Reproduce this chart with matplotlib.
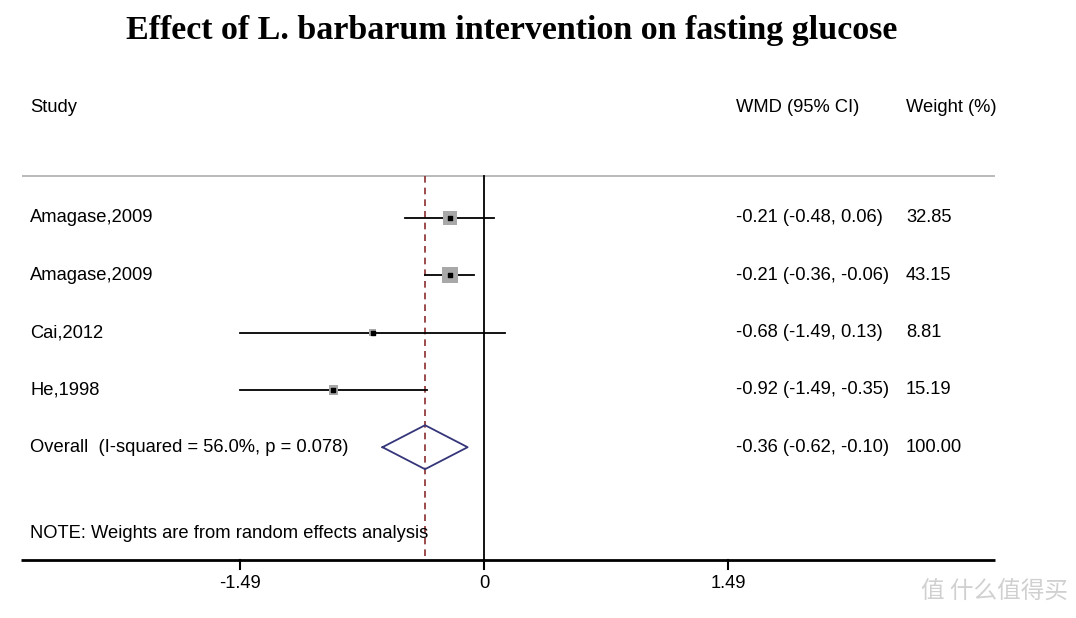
import matplotlib
matplotlib.use("Agg")
import matplotlib.pyplot as plt
import numpy as np

# ---- data ----
studies = ["Amagase,2009", "Amagase,2009", "Cai,2012", "He,1998"]
wmd = [-0.21, -0.21, -0.68, -0.92]
ci_low = [-0.48, -0.36, -1.49, -1.49]
ci_high = [0.06, -0.06, 0.13, -0.35]
weights = [32.85, 43.15, 8.81, 15.19]
overall_label = "Overall  (I-squared = 56.0%, p = 0.078)"
overall = -0.36
overall_low = -0.62
overall_high = -0.10
overall_weight = 100.00
xticks = [-1.49, 0, 1.49]
xticklabels = ["-1.49", "0", "1.49"]
title = "Effect of L. barbarum intervention on fasting glucose"
note = "NOTE: Weights are from random effects analysis"

W, H = 1076, 618
fig = plt.figure(figsize=(W / 100, H / 100), dpi=100)
ax = fig.add_axes([0, 0, 1, 1])
ax.axis("off")

# scale: 0 at px 484, 163.76 px per unit; row 0 at px 218, 57.3 px per row
x0px, xs = 484.0, 163.76
y0px, ys = 218.0, 57.3
ax.set_xlim(-x0px / xs, (W - x0px) / xs)
ax.set_ylim((H - y0px) / ys, -y0px / ys)

def px2x(p):
    return (p - x0px) / xs

def py2r(p):
    return (p - y0px) / ys

font = ["Liberation Sans", "DejaVu Sans"]
fs = 13.2
n = len(studies)
rows = np.arange(n)
r_over = n
r_top = py2r(176)
r_bot = py2r(560)

# header
ax.text(px2x(30), py2r(108), "Study", fontsize=fs, family=font, va="center", ha="left")
ax.text(px2x(736), py2r(108), "WMD (95% CI)", fontsize=fs, family=font, va="center", ha="left")
ax.text(px2x(906), py2r(108), "Weight (%)", fontsize=fs, family=font, va="center", ha="left")

# top separator line
ax.plot([px2x(22), px2x(995)], [r_top, r_top], color="#b4b4b4", lw=1.3, solid_capstyle="butt")

# zero line and overall dashed line
ax.plot([0, 0], [r_top, r_bot], color="black", lw=1.3)
ax.plot([overall, overall], [r_top, r_bot], color="#8b2e2e", lw=1.2, ls=(0, (4, 3)))

# study rows
for i in range(n):
    ax.plot([ci_low[i], ci_high[i]], [rows[i], rows[i]], color="black", lw=1.3, zorder=2)
    side_px = 2.44 * np.sqrt(weights[i])
    side_pt = side_px * 0.72
    ax.scatter([wmd[i]], [rows[i]], marker="s", s=side_pt ** 2, color="#a8a8a8",
               edgecolors="none", zorder=3)
    ax.scatter([wmd[i]], [rows[i]], marker="s", s=3.5 ** 2, color="black", zorder=4)
    ax.text(px2x(30), rows[i], studies[i], fontsize=fs, family=font, va="center", ha="left")
    ax.text(px2x(736), rows[i], f"{wmd[i]:.2f} ({ci_low[i]:.2f}, {ci_high[i]:.2f})",
            fontsize=fs, family=font, va="center", ha="left")
    ax.text(px2x(906), rows[i], f"{weights[i]:.2f}", fontsize=fs, family=font,
            va="center", ha="left")

# overall diamond
hh = 22 / ys
dx = [overall_low, overall, overall_high, overall, overall_low]
dy = [r_over, r_over - hh, r_over, r_over + hh, r_over]
ax.plot(dx, dy, color="#35357a", lw=1.3, zorder=3)
ax.text(px2x(30), r_over, overall_label, fontsize=fs, family=font, va="center", ha="left")
ax.text(px2x(736), r_over, f"{overall:.2f} ({overall_low:.2f}, {overall_high:.2f})",
        fontsize=fs, family=font, va="center", ha="left")
ax.text(px2x(906), r_over, f"{overall_weight:.2f}", fontsize=fs, family=font,
        va="center", ha="left")

# note
ax.text(px2x(30), py2r(533), note, fontsize=fs, family=font, va="center", ha="left")

# bottom axis
ax.plot([px2x(21), px2x(995)], [r_bot, r_bot], color="black", lw=2.0, solid_capstyle="butt")
tick_len = 9 / ys
for t, lab in zip(xticks, xticklabels):
    ax.plot([t, t], [r_bot, r_bot + tick_len], color="black", lw=1.5)
    ax.text(t, py2r(584), lab, fontsize=fs, family=font, va="center", ha="center")

# title
ax.text(px2x(512), py2r(31), title, fontsize=24.5, family=["Liberation Serif", "DejaVu Serif"],
        fontweight="bold", va="center", ha="center")

# watermark
ax.text(px2x(1068), py2r(592), "值 什么值得买", fontsize=17,
        family=["Noto Sans CJK SC", "DejaVu Sans"], color="#d0d0d0", va="center", ha="right")

fig.savefig("out.png", dpi=100)
